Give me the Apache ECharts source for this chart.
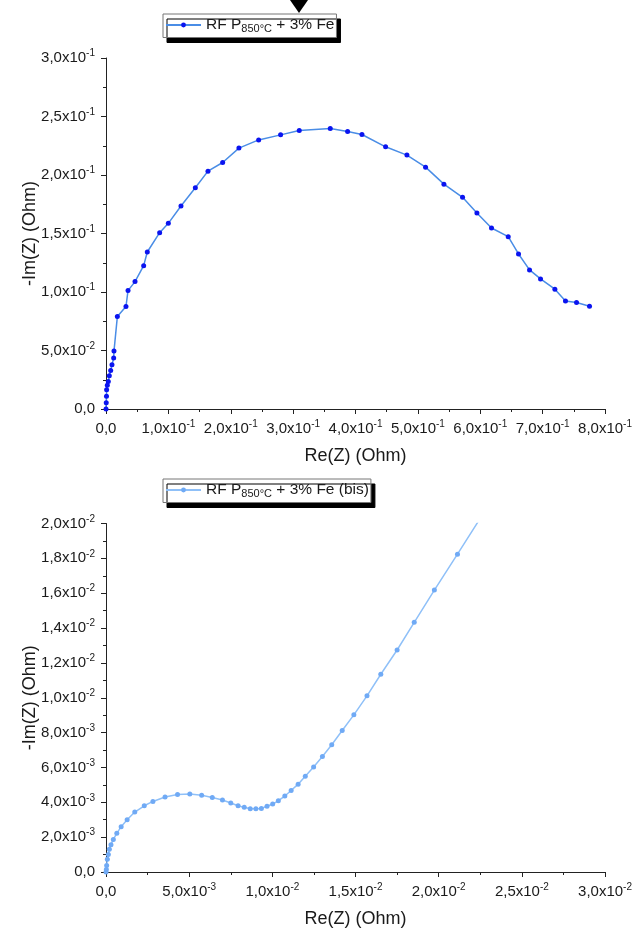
<!DOCTYPE html>
<html>
<head>
<meta charset="utf-8">
<script src="https://cdn.jsdelivr.net/npm/echarts@6/dist/echarts.min.js"></script>
<style>
html,body{margin:0;padding:0;background:#fff;}
#c{width:635px;height:929px;}
</style>
</head>
<body>
<div id="c"></div>
<script>
// ---- Data: top plot (RF P850°C + 3% Fe) ----
var topRe = [0, 0.0004, 0.0008, 0.0010, 0.0021, 0.0037, 0.0053, 0.0075, 0.0096, 0.0123, 0.0128,
  0.0182, 0.0320, 0.0353, 0.0465, 0.0604, 0.0662, 0.0860, 0.0999, 0.1202, 0.1432, 0.1635, 0.1870,
  0.2131, 0.2447, 0.2799, 0.3098, 0.3595, 0.3873, 0.4103, 0.4482, 0.4824, 0.5123, 0.5417, 0.5716,
  0.5946, 0.6180, 0.6448, 0.6613, 0.6790, 0.6966, 0.7196, 0.7366, 0.7543, 0.7751];
var topIm = [0, 0.0054, 0.0110, 0.0165, 0.0202, 0.0236, 0.0284, 0.0330, 0.0378, 0.0435, 0.0495,
  0.0790, 0.0876, 0.1012, 0.1089, 0.1225, 0.1342, 0.1507, 0.1587, 0.1735, 0.1891, 0.2033, 0.2107,
  0.2230, 0.2300, 0.2343, 0.2380, 0.2397, 0.2372, 0.2346, 0.2241, 0.2170, 0.2067, 0.1922, 0.1809,
  0.1675, 0.1547, 0.1473, 0.1325, 0.1189, 0.1112, 0.1024, 0.0924, 0.0910, 0.0879];

// ---- Data: bottom plot (RF P850°C + 3% Fe (bis)) ----
var bisRe = [0, 0.00002, 0.00004, 0.00008, 0.00014, 0.00020, 0.00030, 0.00044, 0.00065, 0.00091,
  0.00127, 0.00173, 0.00230, 0.00282, 0.00355, 0.00430, 0.00504, 0.00575, 0.00639, 0.00700,
  0.00750, 0.00794, 0.00831, 0.00867, 0.00901, 0.00934, 0.00968, 0.01002, 0.01036, 0.01075,
  0.01113, 0.01155, 0.01198, 0.01248, 0.01301, 0.01357, 0.01420, 0.01490, 0.01569, 0.01652,
  0.01750, 0.01853, 0.01974, 0.02113, 0.02250];
var bisIm = [0, 0.00015, 0.00038, 0.00073, 0.00101, 0.00130, 0.00157, 0.00187, 0.00222, 0.00260,
  0.00300, 0.00344, 0.00380, 0.00405, 0.00430, 0.00445, 0.00447, 0.00441, 0.00428, 0.00413,
  0.00396, 0.00380, 0.00371, 0.00363, 0.00363, 0.00365, 0.00377, 0.00390, 0.00409, 0.00436,
  0.00468, 0.00504, 0.00550, 0.00603, 0.00663, 0.00730, 0.00812, 0.00902, 0.01011, 0.01135,
  0.01274, 0.01433, 0.01618, 0.01824, 0.02030];

// ---- Axis ticks ----
var topXTicks = {min: 0, max: 0.8, interval: 0.1};
var topYTicks = {min: 0, max: 0.3, interval: 0.05};
var botXTicks = {min: 0, max: 0.03, interval: 0.005};
var botYTicks = {min: 0, max: 0.02, interval: 0.002};

var FONT = "'Liberation Sans', Arial, sans-serif";

function sciLabel(v) {
  if (Math.abs(v) < 1e-12) return '{m|0,0}';
  var e = Math.floor(Math.log10(Math.abs(v)) + 1e-9);
  var m = v / Math.pow(10, e);
  return '{m|' + m.toFixed(1).replace('.', ',') + 'x10}{s|' + e + '}';
}
var labelRich = {
  m: {fontSize: 15, fontFamily: FONT, color: '#1a1a1a', lineHeight: 19},
  s: {fontSize: 10, fontFamily: FONT, color: '#1a1a1a', lineHeight: 11, verticalAlign: 'top'}
};
var legendRich = {
  a: {fontSize: 15.5, fontFamily: FONT, color: '#1a1a1a', lineHeight: 19},
  b: {fontSize: 11, fontFamily: FONT, color: '#1a1a1a', lineHeight: 9, verticalAlign: 'bottom'}
};

function pairs(xs, ys) { return xs.map(function (x, i) { return [x, ys[i]]; }); }

function xAxis(gi, t) {
  return {
    type: 'value', gridIndex: gi, min: t.min, max: t.max, interval: t.interval,
    name: 'Re(Z) (Ohm)', nameLocation: 'middle', nameGap: 38, nameMoveOverlap: false,
    nameTextStyle: {fontSize: 18, fontFamily: FONT, color: '#1a1a1a'},
    axisLine: {show: true, onZero: false, lineStyle: {color: '#222', width: 1}},
    axisTick: {show: true, length: 5, lineStyle: {color: '#222'}},
    minorTick: {show: true, splitNumber: 2, length: 3, lineStyle: {color: '#222'}},
    splitLine: {show: false},
    axisLabel: {margin: 10, formatter: sciLabel, rich: labelRich}
  };
}
function yAxis(gi, t) {
  return {
    type: 'value', gridIndex: gi, min: t.min, max: t.max, interval: t.interval,
    name: '-Im(Z) (Ohm)', nameLocation: 'middle', nameGap: 67, nameRotate: 90, nameMoveOverlap: false,
    nameTextStyle: {fontSize: 18, fontFamily: FONT, color: '#1a1a1a'},
    axisLine: {show: true, onZero: false, lineStyle: {color: '#222', width: 1}},
    axisTick: {show: true, length: 5, lineStyle: {color: '#222'}},
    minorTick: {show: true, splitNumber: 2, length: 3, lineStyle: {color: '#222'}},
    splitLine: {show: false},
    axisLabel: {margin: 11, formatter: sciLabel, rich: labelRich}
  };
}
function legend(left, top, name) {
  return {
    left: left, top: top, orient: 'horizontal',
    data: [name],
    itemWidth: 35, itemHeight: 6,
    padding: [3, 2, 3, 2],
    backgroundColor: '#fff', borderColor: '#777', borderWidth: 1, borderRadius: 0,
    shadowColor: '#000', shadowBlur: 0, shadowOffsetX: 4, shadowOffsetY: 5,
    formatter: function (n) {
      return n.indexOf('bis') >= 0
        ? '{a|RF P}{b|850°C}{a| + 3% Fe (bis)}'
        : '{a|RF P}{b|850°C}{a| + 3% Fe}';
    },
    textStyle: {rich: legendRich}
  };
}

var chart = echarts.init(document.getElementById('c'), null, {renderer: 'canvas'});
chart.setOption({
  backgroundColor: '#fff',
  animation: false,
  legend: [legend(163, 14, 'RF P850°C + 3% Fe'), legend(163, 479, 'RF P850°C + 3% Fe (bis)')],
  grid: [
    {left: 106, right: 29, top: 58, height: 351, containLabel: false},
    {left: 106, right: 29, top: 523.5, height: 349, containLabel: false}
  ],
  xAxis: [xAxis(0, topXTicks), xAxis(1, botXTicks)],
  yAxis: [yAxis(0, topYTicks), yAxis(1, botYTicks)],
  series: [
    {
      name: 'RF P850°C + 3% Fe', type: 'line', xAxisIndex: 0, yAxisIndex: 0,
      data: pairs(topRe, topIm), symbol: 'circle', symbolSize: 5, showSymbol: true,
      lineStyle: {color: '#4a8de6', width: 1.5},
      itemStyle: {color: '#0a14f0'}, clip: true
    },
    {
      name: 'RF P850°C + 3% Fe (bis)', type: 'line', xAxisIndex: 1, yAxisIndex: 1,
      data: pairs(bisRe, bisIm), symbol: 'circle', symbolSize: 5, showSymbol: true,
      lineStyle: {color: '#8fc0f8', width: 1.5},
      itemStyle: {color: '#70aaf5'}, clip: true
    }
  ],
  graphic: [
    {type: 'polygon', shape: {points: [[290, 0], [308, 0], [299, 13]]}, style: {fill: '#000'}}
  ]
});
</script>
</body>
</html>
